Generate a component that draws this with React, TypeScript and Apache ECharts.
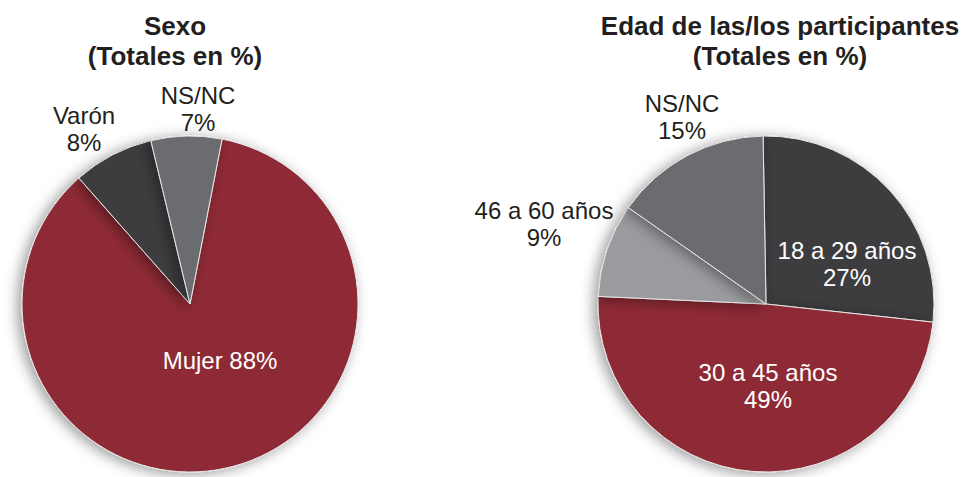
import React, { useEffect, useRef } from "react";
import * as echarts from "echarts";

const sexoCategories = ["Mujer", "Varón", "NS/NC"];
const sexoValues = [88, 8, 7];
const sexoColors = ["#8e2934", "#3d3d3f", "#6b6c70"];

const edadCategories = ["18 a 29 años", "30 a 45 años", "46 a 60 años", "NS/NC"];
const edadValues = [27, 49, 9, 15];
const edadColors = ["#3d3d3f", "#8e2934", "#9a9b9e", "#6b6c70"];

// label block centres (layout only)
const sexoLabelPos = [
  [220, 360],
  [84, 129],
  [198, 109],
];
const edadLabelPos = [
  [847, 264],
  [768, 386],
  [544, 224],
  [682, 117],
];

const FONT = "'Liberation Sans', Arial, Helvetica, sans-serif";
const TEXT_COLOR = "#231f20";

export default function App() {
  const ref = useRef<HTMLDivElement>(null);

  useEffect(() => {
    if (!ref.current) return;
    const chart = echarts.init(ref.current, undefined, { renderer: "svg" });

    const itemStyle = {
      borderColor: "#e6e6e6",
      borderWidth: 1,
      shadowBlur: 14,
      shadowColor: "rgba(0,0,0,0.4)",
      shadowOffsetX: -4,
      shadowOffsetY: 2,
    };

    const baseLabel = {
      show: true,
      fontSize: 24,
      lineHeight: 27,
      fontFamily: FONT,
      overflow: "none",
      formatter: "{b}\n{c}%",
    };
    const insideLabel = { ...baseLabel, position: "inside", color: "#ffffff" };
    const outsideLabel = {
      ...baseLabel,
      position: "outside",
      color: TEXT_COLOR,
      alignTo: "none",
      edgeDistance: 0,
    };

    const sexoData = sexoCategories.map((name, i) => ({
      name,
      value: sexoValues[i],
      itemStyle: { color: sexoColors[i] },
      label: i === 0 ? { ...insideLabel, formatter: "{b} {c}%" } : outsideLabel,
    }));

    const edadData = edadCategories.map((name, i) => ({
      name,
      value: edadValues[i],
      itemStyle: { color: edadColors[i] },
      label: i < 2 ? insideLabel : outsideLabel,
    }));

    const titleStyle = {
      fontSize: 26,
      lineHeight: 30,
      fontWeight: "bold",
      color: TEXT_COLOR,
      fontFamily: FONT,
    };

    const makeLayout = (pos: number[][]) => (p: any) => ({
      x: pos[p.dataIndex][0],
      y: pos[p.dataIndex][1],
      align: "center",
      verticalAlign: "middle",
    });

    chart.setOption({
      animation: false,
      textStyle: { fontFamily: FONT },
      title: [
        {
          text: "Sexo\n(Totales en %)",
          left: 170,
          top: 6,
          textAlign: "center",
          textStyle: titleStyle,
        },
        {
          text: "Edad de las/los participantes\n(Totales en %)",
          left: 775,
          top: 6,
          textAlign: "center",
          textStyle: titleStyle,
        },
      ],
      series: [
        {
          type: "pie",
          center: [190, 304],
          radius: [0, 168],
          startAngle: 79,
          clockwise: true,
          data: sexoData,
          itemStyle,
          labelLine: { show: false },
          labelLayout: makeLayout(sexoLabelPos),
          emphasis: { disabled: true },
        },
        {
          type: "pie",
          center: [766, 304],
          radius: [0, 168],
          startAngle: 91,
          clockwise: true,
          data: edadData,
          itemStyle,
          labelLine: { show: false },
          labelLayout: makeLayout(edadLabelPos),
          emphasis: { disabled: true },
        },
      ],
    });

    return () => chart.dispose();
  }, []);

  return (
    <div
      ref={ref}
      style={{ position: "fixed", left: 0, top: 0, width: 970, height: 477, background: "#ffffff" }}
    />
  );
}
